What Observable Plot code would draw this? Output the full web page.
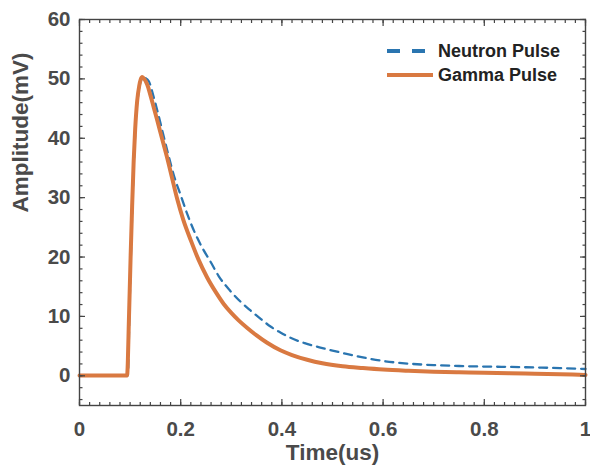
<!DOCTYPE html>
<html>
<head>
<meta charset="utf-8">
<script src="https://cdn.jsdelivr.net/npm/d3@7"></script>
<script src="https://cdn.jsdelivr.net/npm/@observablehq/plot@0.6"></script>
<style>
  body { margin: 0; background: #fff; }
  #wrap { position: relative; width: 590px; height: 468px; }
  #legend { position: absolute; left: 387px; top: 39px; font: bold 18px "Liberation Sans", Arial, sans-serif; color: #222; }
  #legend .row { display: flex; align-items: center; height: 24px; }
  #legend svg { margin-right: 5px; }
</style>
</head>
<body>
<div id="wrap"></div>
<script>
// ---- data ----
const gammaTime = [0, 0.02, 0.04, 0.06, 0.08, 0.094, 0.098, 0.101, 0.104, 0.107, 0.110, 0.114, 0.118, 0.121, 0.124, 0.128, 0.134, 0.140, 0.147, 0.154, 0.163, 0.173, 0.183, 0.193, 0.205, 0.220, 0.235, 0.252, 0.270, 0.285, 0.300, 0.315, 0.331, 0.350, 0.370, 0.397, 0.420, 0.450, 0.480, 0.520, 0.560, 0.600, 0.650, 0.700, 0.750, 0.800, 0.850, 0.900, 0.950, 1.000];
const gammaAmp = [0.05, 0.05, 0.05, 0.05, 0.05, 0.05, 10.5, 20.0, 28.5, 36.0, 41.5, 46.3, 48.8, 49.9, 50.3, 50.0, 49.0, 47.3, 45.1, 42.9, 40.0, 36.8, 33.3, 29.8, 26.3, 22.8, 19.6, 16.6, 14.0, 12.1, 10.6, 9.3, 8.1, 6.8, 5.6, 4.3, 3.5, 2.7, 2.1, 1.6, 1.3, 1.05, 0.85, 0.7, 0.6, 0.5, 0.45, 0.35, 0.25, 0.15];

const neutronTime = [0, 0.02, 0.04, 0.06, 0.08, 0.0955, 0.0985, 0.1015, 0.1045, 0.1075, 0.1105, 0.1145, 0.1185, 0.122, 0.126, 0.131, 0.137, 0.147, 0.1555, 0.165, 0.175, 0.187, 0.200, 0.214, 0.229, 0.245, 0.259, 0.275, 0.298, 0.318, 0.338, 0.358, 0.3775, 0.397, 0.417, 0.445, 0.476, 0.500, 0.530, 0.560, 0.600, 0.650, 0.700, 0.750, 0.800, 0.850, 0.900, 0.950, 1.000];
const neutronAmp = [0.05, 0.05, 0.05, 0.05, 0.05, 0.05, 10.0, 20.0, 28.5, 36.0, 41.5, 46.2, 48.7, 49.8, 50.2, 50.1, 49.6, 46.8, 44.1, 40.8, 37.4, 33.6, 30.4, 27.0, 23.9, 21.2, 19.2, 16.8, 14.3, 12.5, 11.0, 9.6, 8.3, 7.3, 6.4, 5.5, 4.75, 4.25, 3.65, 3.1, 2.5, 2.05, 1.8, 1.65, 1.55, 1.5, 1.4, 1.3, 1.15];

const seriesNames = ["Neutron Pulse", "Gamma Pulse"];
const xTicks = [0, 0.2, 0.4, 0.6, 0.8, 1];
const yTicks = [0, 10, 20, 30, 40, 50, 60];
const xLabel = "Time(us)";
const yLabel = "Amplitude(mV)";

// ---- styles ----
const blue = "#2a75b0";
const orange = "#d97941";
const axisColor = "#444";
const font = "'Liberation Sans', Arial, sans-serif";

const gamma = gammaTime.map((t, i) => ({t, v: gammaAmp[i]}));
const neutron = neutronTime.map((t, i) => ({t, v: neutronAmp[i]}));
const xMinor = d3.range(0, 51).map(i => i / 50);
const yMinor = d3.range(-2, 31).map(i => i * 2);

const tickAxes = [];
for (const a of ["bottom", "top"]) {
  tickAxes.push(Plot.axisX({anchor: a, ticks: xMinor, tickSize: -3, fill: "none", label: null, stroke: axisColor, strokeWidth: 1.2}));
  tickAxes.push(Plot.axisX({anchor: a, ticks: xTicks, tickSize: -6, fill: "none", label: null, stroke: axisColor, strokeWidth: 1.2}));
}
for (const a of ["left", "right"]) {
  tickAxes.push(Plot.axisY({anchor: a, ticks: yMinor, tickSize: -3.5, fill: "none", label: null, stroke: axisColor, strokeWidth: 1.2}));
  tickAxes.push(Plot.axisY({anchor: a, ticks: yTicks, tickSize: -6, fill: "none", label: null, stroke: axisColor, strokeWidth: 1.2}));
}

const chart = Plot.plot({
  width: 590,
  height: 468,
  marginLeft: 79,
  marginRight: 5,
  marginTop: 19,
  marginBottom: 63,
  x: {domain: [0, 1]},
  y: {domain: [-5, 60]},
  style: {fontFamily: font, color: "#4a4a4a", background: "white"},
  marks: [
    Plot.line(neutron, {x: "t", y: "v", stroke: blue, strokeWidth: 2.3, strokeDasharray: "8,6", curve: "monotone-x"}),
    Plot.line(gamma, {x: "t", y: "v", stroke: orange, strokeWidth: 4, curve: "monotone-x"}),
    Plot.frame({stroke: axisColor, strokeWidth: 1.4}),
    ...tickAxes,
    Plot.axisX({anchor: "bottom", ticks: xTicks, tickSize: 0, tickPadding: 16, tickFormat: d3.format("~g"), fontSize: 20.5, fontWeight: "bold", label: null}),
    Plot.axisY({anchor: "left", ticks: yTicks, tickSize: 0, tickPadding: 9, fontSize: 20.5, fontWeight: "bold", label: null}),
    Plot.text([xLabel], {frameAnchor: "bottom", dy: 54, fontSize: 22.5, fontWeight: "bold", fill: "#4a4a4a"}),
    Plot.text([yLabel], {frameAnchor: "left", rotate: -90, dx: -58.7, fontSize: 22.5, fontWeight: "bold", fill: "#4a4a4a"})
  ]
});

const wrap = document.getElementById("wrap");
wrap.appendChild(chart);

// legend inside the plot area
const legend = document.createElement("div");
legend.id = "legend";
const legendStyles = [
  {stroke: blue, dash: "13,12"},
  {stroke: orange, dash: null}
];
seriesNames.forEach((name, i) => {
  const row = document.createElement("div");
  row.className = "row";
  const s = legendStyles[i];
  row.innerHTML = `<svg width="46" height="8"><line x1="0" y1="4" x2="46" y2="4" stroke="${s.stroke}" stroke-width="4" ${s.dash ? `stroke-dasharray="${s.dash}"` : ""}/></svg><span>${name}</span>`;
  legend.appendChild(row);
});
wrap.appendChild(legend);
</script>
</body>
</html>
